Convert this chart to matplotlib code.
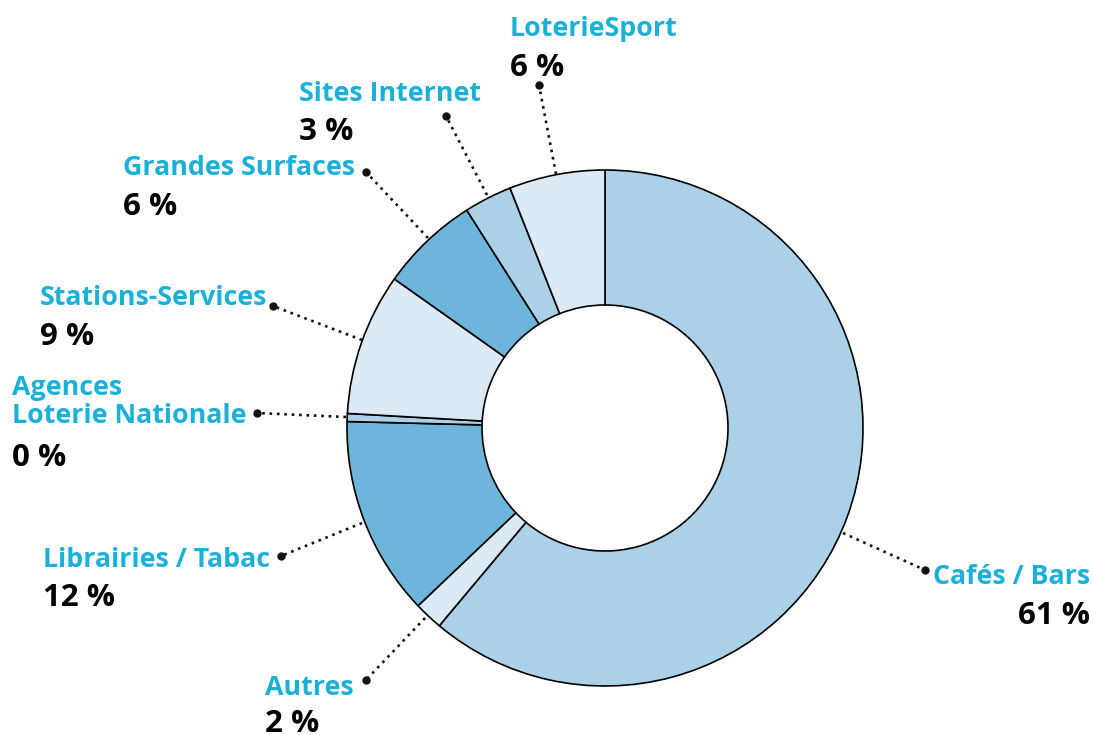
import matplotlib
matplotlib.use("Agg")
import matplotlib.pyplot as plt

# Data
categories = ["Cafés / Bars", "Autres", "Librairies / Tabac", "Agences\nLoterie Nationale",
              "Stations-Services", "Grandes Surfaces", "Sites Internet", "LoterieSport"]
values = [61.1, 1.8, 12.5, 0.5, 8.9, 6.2, 3.0, 6.0]
pct_labels = ["61 %", "2 %", "12 %", "0 %", "9 %", "6 %", "3 %", "6 %"]

# Styles
C_LIGHT, C_VLIGHT, C_MED = "#abd1e8", "#dbeaf5", "#6db5da"
colors = [C_LIGHT, C_VLIGHT, C_MED, C_LIGHT, C_VLIGHT, C_MED, C_LIGHT, C_VLIGHT]
LABEL_COLOR = "#1ab0d8"
FONT = ["Open Sans", "DejaVu Sans"]

W, H = 1093, 735
fig = plt.figure(figsize=(W / 100, H / 100), dpi=100)
ax = fig.add_axes([0, 0, 1, 1])

def Y(y):
    return H - y

cx, cy, R = 605, 428, 258
ax.pie(values, colors=colors, startangle=90, counterclock=False,
       center=(cx, Y(cy)), radius=R, frame=True,
       wedgeprops=dict(width=R - 123, edgecolor="black", linewidth=1.2))
ax.set_xlim(0, W)
ax.set_ylim(0, H)
ax.set_aspect("equal")
ax.axis("off")

# leader lines: (start on ring, end near label)
leaders = [((843, 533), (925, 570)),
           ((425, 618), (366, 680)),
           ((362, 523), (281, 556)),
           ((346, 417), (257, 413)),
           ((362, 340), (273, 306)),
           ((428, 238), (366, 172)),
           ((487, 195), (446, 116)),
           ((556, 174), (539, 85))]
# label layout: (x, y of name center, y of pct center, ha)
layout = [(1090, 577, 616, "right"),
          (265, 688, 724, "left"),
          (43, 560, 598, "left"),
          (12, 402, 458, "left"),
          (40, 298, 337, "left"),
          (123, 168, 207, "left"),
          (299, 94, 132, "left"),
          (510, 29, 68, "left")]

for (s, e), (lx, ly, py, ha), name, pct in zip(leaders, layout, categories, pct_labels):
    ax.plot([s[0], e[0]], [Y(s[1]), Y(e[1])], linestyle=(0, (1, 1.8)), color="#111111",
            linewidth=1.9)
    ax.plot([e[0]], [Y(e[1])], marker="o", markersize=5, color="#111111")
    ax.text(lx, Y(ly), name, ha=ha, va="center", color=LABEL_COLOR, fontsize=19.3,
            fontweight="bold", family=FONT, linespacing=1.12)
    ax.text(lx, Y(py), pct, ha=ha, va="center", color="black", fontsize=22.5,
            fontweight="bold", family=FONT)

fig.savefig("out.png", dpi=100)
